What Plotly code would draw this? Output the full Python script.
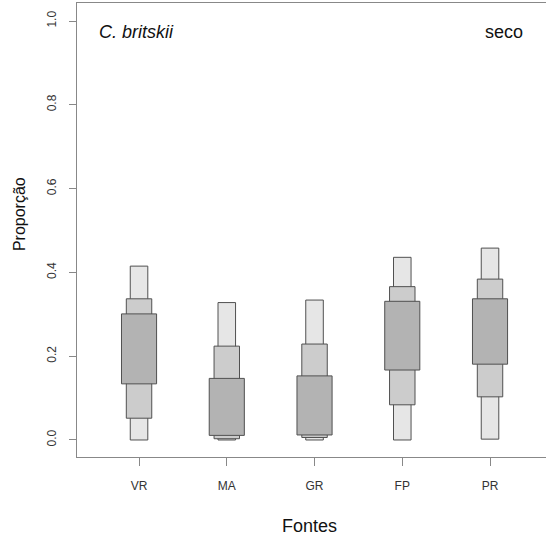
import plotly.graph_objects as go

fontes = ["VR", "MA", "GR", "FP", "PR"]
# credible intervals (low, high)
ci95_low = [0.000, 0.000, 0.000, 0.000, 0.002]
ci95_high = [0.415, 0.328, 0.334, 0.436, 0.458]
ci75_low = [0.052, 0.003, 0.006, 0.084, 0.103]
ci75_high = [0.337, 0.224, 0.229, 0.366, 0.384]
ci50_low = [0.134, 0.011, 0.012, 0.167, 0.181]
ci50_high = [0.301, 0.147, 0.153, 0.331, 0.337]
yticks = [0.0, 0.2, 0.4, 0.6, 0.8, 1.0]

xpos = list(range(1, len(fontes) + 1))
fig = go.Figure()
levels = [
    (ci95_low, ci95_high, 0.20, "#e6e6e6"),
    (ci75_low, ci75_high, 0.29, "#cccccc"),
    (ci50_low, ci50_high, 0.40, "#b3b3b3"),
]
for lo, hi, w, col in levels:
    fig.add_trace(go.Bar(
        x=xpos, y=[h - l for l, h in zip(lo, hi)], base=lo, width=w,
        marker=dict(color=col, line=dict(color="#505050", width=1)),
        hoverinfo="skip", showlegend=False,
    ))

font = "Liberation Sans, Arial, sans-serif"
fig.update_layout(
    width=546, height=544, barmode="overlay",
    margin=dict(l=77, r=0, t=3, b=87),
    plot_bgcolor="white", paper_bgcolor="white",
    font=dict(family=font, color="#222222"),
    xaxis=dict(range=[0.293, 5.638], tickvals=xpos, ticktext=fontes,
               showline=True, mirror=True, linecolor="#888888", linewidth=1,
               ticks="outside", ticklen=8, tickcolor="#888888",
               ticklabelstandoff=10, tickfont=dict(size=12, color="#333333"),
               showgrid=False, zeroline=False),
    yaxis=dict(range=[-0.0406, 1.043], tickvals=yticks,
               ticktext=[f"{v:.1f}" for v in yticks], tickangle=-90,
               showline=True, linecolor="#888888", linewidth=1,
               ticks="outside", ticklen=7, tickcolor="#888888",
               ticklabelstandoff=8, tickfont=dict(size=12, color="#333333"),
               showgrid=False, zeroline=False),
    annotations=[
        dict(text="Proporção", x=-0.1237, y=0.535, xref="paper", yref="paper",
             textangle=-90, showarrow=False, font=dict(size=16, color="#111111"),
             xanchor="center", yanchor="middle"),
        dict(text="Fontes", x=0.4947, y=-0.152, xref="paper", yref="paper",
             showarrow=False, font=dict(size=18, color="#111111"),
             xanchor="center", yanchor="middle"),
        dict(text="<i>C. britskii</i>", x=0.0426, y=0.936, xref="paper", yref="paper",
             showarrow=False, font=dict(size=18, color="#111111"),
             xanchor="left", yanchor="middle"),
        dict(text="seco", x=0.955, y=0.936, xref="paper", yref="paper",
             showarrow=False, font=dict(size=18, color="#111111"),
             xanchor="right", yanchor="middle"),
    ],
)
fig.write_html("out.html", config={"displayModeBar": False},
               post_script="document.body.style.margin='0';document.body.style.overflow='hidden';")
